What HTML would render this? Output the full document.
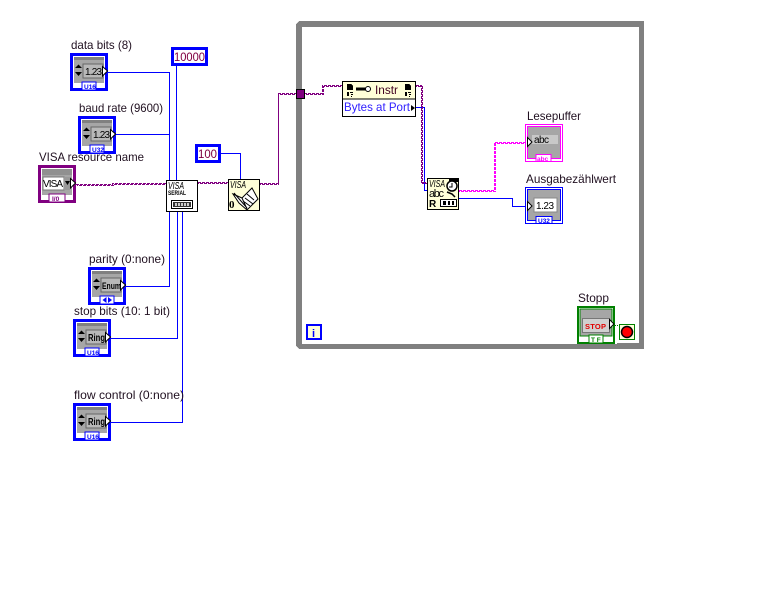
<!DOCTYPE html>
<html><head><meta charset="utf-8">
<style>
html,body{margin:0;padding:0;background:#fff}
svg{display:block}
text{font-family:"Liberation Sans",sans-serif;font-size:12px;fill:#201020}
.w{fill:none;shape-rendering:crispEdges}
.b{stroke:#0000ff;stroke-width:1}
.p{stroke:#800080;stroke-width:1;stroke-dasharray:3 1}
.k{stroke:#ff00ff;stroke-width:1;stroke-dasharray:3 1}
.n{font-size:10px;fill:#000}
.t{font-size:6.5px;font-weight:bold;fill:#0000ff}
.v{font-family:"Liberation Sans",sans-serif;font-style:italic;font-size:10px;fill:#000}
.s{shape-rendering:crispEdges}
</style></head><body>
<svg width="768" height="614" viewBox="0 0 768 614" xmlns="http://www.w3.org/2000/svg">
<!-- loop -->
<path class="s" fill="#808080" d="M299 21H644V27H302V344H617V343H639V27H644V349H299L296 346V24Z"/>

<!-- blue wires -->
<g class="w b">
<path d="M108 72.500H169.500V180"/>
<path d="M116 134.500H169.500"/>
<path d="M176.500 66V180"/>
<path d="M220 153.500H240.500V179"/>
<path d="M126 286.500H169.500V212"/>
<path d="M111 338.500H177.500V212"/>
<path d="M111 422.500H182.500V212"/>
<path d="M416 107.500H424.500V190.500H427"/>
<path d="M459 198.500H512.500V206.500H527"/>
</g>
<!-- purple wires -->
<g class="w p">
<path d="M76 184.500H112.500V183.500H166"/>
<path d="M198 182.500H228"/>
<path d="M260 183.500H278.500V93.500H296"/>
<path d="M304 93.500H322.500V85.500H342"/>
<path d="M416 85.500H421.500V182.500H427"/>
</g>
<g class="w p" transform="translate(1,1)">
<path style="stroke-dashoffset:2" d="M76 184.500H112.500V183.500H165"/>
<path style="stroke-dashoffset:2" d="M197 182.500H227"/>
<path style="stroke-dashoffset:2" d="M259 183.500H277.500V93.500H295"/>
<path style="stroke-dashoffset:2" d="M303 93.500H322.500V85.500H341"/>
<path style="stroke-dashoffset:2" d="M415 85.500H421.500V182.500H426"/>
</g>
<!-- pink wire -->
<path class="w k" d="M459 190.500H494.500V142.500H526"/>
<path class="w k" style="stroke-dashoffset:2" transform="translate(1,1)" d="M458 190.500H494.500V142.500H525"/>
<path class="w" stroke="#008000" stroke-dasharray="1 1" d="M615 325.500H620"/>

<!-- tunnel -->
<rect class="s" x="296.500" y="89.500" width="8" height="9" fill="#800080" stroke="#000"/>

<!-- labels -->
<text x="71" y="49" textLength="61" lengthAdjust="spacingAndGlyphs">data bits (8)</text>
<text x="79" y="112" textLength="84" lengthAdjust="spacingAndGlyphs">baud rate (9600)</text>
<text x="39" y="161" textLength="105" lengthAdjust="spacingAndGlyphs">VISA resource name</text>
<text x="89" y="263" textLength="76" lengthAdjust="spacingAndGlyphs">parity (0:none)</text>
<text x="74" y="315" textLength="96" lengthAdjust="spacingAndGlyphs">stop bits (10: 1 bit)</text>
<text x="74" y="399" textLength="110" lengthAdjust="spacingAndGlyphs">flow control (0:none)</text>
<text x="527" y="120" textLength="54" lengthAdjust="spacingAndGlyphs">Lesepuffer</text>
<text x="526" y="183" textLength="90" lengthAdjust="spacingAndGlyphs">Ausgabezählwert</text>
<text x="578" y="302" textLength="31" lengthAdjust="spacingAndGlyphs">Stopp</text>

<!-- constants -->
<rect class="s" x="172.500" y="48.500" width="34" height="16" fill="#fff" stroke="#0000ff" stroke-width="3"/>
<text x="174" y="61" style="fill:#800040" textLength="31" lengthAdjust="spacingAndGlyphs">10000</text>
<rect class="s" x="196.500" y="145.500" width="23" height="16" fill="#fff" stroke="#0000ff" stroke-width="3"/>
<text x="198" y="158" style="fill:#800040" textLength="19" lengthAdjust="spacingAndGlyphs">100</text>

<!-- data bits -->
<g transform="translate(70,53)">
<rect class="s" x="1.500" y="1.500" width="35" height="35" fill="#fff" stroke="#0000ff" stroke-width="3"/>
<rect class="s" x="4" y="4" width="30" height="26" fill="#a6a6a6"/><rect class="s" x="4" y="4" width="30" height="3" fill="#808080"/>
<rect class="s" x="13" y="11" width="20" height="14" fill="#b8b8b8" stroke="#666"/>
<path d="M5 15L8.500 11.500L12 15ZM5 19L8.500 23L12 19Z" fill="#000"/>
<text x="15" y="22" class="n" textLength="17" lengthAdjust="spacing">1.23</text>
<path d="M32.500 13.500L37.500 18L32.500 23Z" fill="#fff" stroke="#000"/>
<rect class="s" x="12" y="29" width="14" height="8" fill="#fff" stroke="#0000ff"/><text x="14" y="36" class="t">U16</text>
</g>
<!-- baud rate -->
<g transform="translate(78,116)">
<rect class="s" x="1.500" y="1.500" width="35" height="35" fill="#fff" stroke="#0000ff" stroke-width="3"/>
<rect class="s" x="4" y="4" width="30" height="26" fill="#a6a6a6"/><rect class="s" x="4" y="4" width="30" height="3" fill="#808080"/>
<rect class="s" x="13" y="11" width="20" height="14" fill="#b8b8b8" stroke="#666"/>
<path d="M5 15L8.500 11.500L12 15ZM5 19L8.500 23L12 19Z" fill="#000"/>
<text x="15" y="22" class="n" textLength="17" lengthAdjust="spacing">1.23</text>
<path d="M32.500 13.500L37.500 18L32.500 23Z" fill="#fff" stroke="#000"/>
<rect class="s" x="12" y="29" width="14" height="8" fill="#fff" stroke="#0000ff"/><text x="14" y="36" class="t">U32</text>
</g>
<!-- VISA -->
<g transform="translate(38,165)">
<rect class="s" x="1.500" y="1.500" width="35" height="35" fill="#fff" stroke="#800080" stroke-width="3"/>
<rect class="s" x="4" y="4" width="30" height="26" fill="#a6a6a6"/><rect class="s" x="4" y="4" width="30" height="6" fill="#909090"/>
<rect class="s" x="5" y="12" width="21" height="13" fill="#fff" stroke="#777"/>
<rect class="s" x="26" y="12" width="6" height="13" fill="#999"/>
<path d="M27 16H32L29.500 20Z" fill="#000"/>
<text x="5" y="22" style="font-size:10px;fill:#000" textLength="20" lengthAdjust="spacing">VISA</text>
<path d="M32.500 13.500L37.500 18L32.500 23Z" fill="#fff" stroke="#000"/>
<rect class="s" x="11" y="29" width="16" height="8" fill="#fff" stroke="#800080"/><text x="14" y="36" class="t" style="fill:#800080">I/0</text>
</g>
<!-- parity -->
<g transform="translate(88,267)">
<rect class="s" x="1.500" y="1.500" width="35" height="35" fill="#fff" stroke="#0000ff" stroke-width="3"/>
<rect class="s" x="4" y="4" width="30" height="26" fill="#a6a6a6"/><rect class="s" x="4" y="4" width="30" height="3" fill="#808080"/>
<rect class="s" x="13" y="11" width="20" height="14" fill="#b8b8b8" stroke="#666"/>
<path d="M5 15L8.500 11.500L12 15ZM5 19L8.500 23L12 19Z" fill="#000"/>
<text x="14" y="22" class="n" style="font-weight:bold;font-size:9px" textLength="19" lengthAdjust="spacingAndGlyphs">Enum</text>
<path d="M32.500 13.500L37.500 18L32.500 23Z" fill="#fff" stroke="#000"/>
<rect class="s" x="12" y="29" width="14" height="8" fill="#fff" stroke="#0000ff"/>
<path d="M18.500 30L14.500 33L18.500 36ZM20 30L24 33L20 36Z" fill="#0000ff"/>
</g>
<!-- stop bits -->
<g transform="translate(73,319)">
<rect class="s" x="1.500" y="1.500" width="35" height="35" fill="#fff" stroke="#0000ff" stroke-width="3"/>
<rect class="s" x="4" y="4" width="30" height="26" fill="#a6a6a6"/><rect class="s" x="4" y="4" width="30" height="3" fill="#808080"/>
<rect class="s" x="13" y="11" width="20" height="14" fill="#b8b8b8" stroke="#666"/>
<path d="M5 15L8.500 11.500L12 15ZM5 19L8.500 23L12 19Z" fill="#000"/>
<text x="15" y="22" class="n" style="font-weight:bold" textLength="17" lengthAdjust="spacingAndGlyphs">Ring</text>
<path d="M32.500 13.500L37.500 18L32.500 23Z" fill="#fff" stroke="#000"/>
<rect class="s" x="12" y="29" width="14" height="8" fill="#fff" stroke="#0000ff"/><text x="14" y="36" class="t">U16</text>
</g>
<!-- flow control -->
<g transform="translate(73,403)">
<rect class="s" x="1.500" y="1.500" width="35" height="35" fill="#fff" stroke="#0000ff" stroke-width="3"/>
<rect class="s" x="4" y="4" width="30" height="26" fill="#a6a6a6"/><rect class="s" x="4" y="4" width="30" height="3" fill="#808080"/>
<rect class="s" x="13" y="11" width="20" height="14" fill="#b8b8b8" stroke="#666"/>
<path d="M5 15L8.500 11.500L12 15ZM5 19L8.500 23L12 19Z" fill="#000"/>
<text x="15" y="22" class="n" style="font-weight:bold" textLength="17" lengthAdjust="spacingAndGlyphs">Ring</text>
<path d="M32.500 13.500L37.500 18L32.500 23Z" fill="#fff" stroke="#000"/>
<rect class="s" x="12" y="29" width="14" height="8" fill="#fff" stroke="#0000ff"/><text x="14" y="36" class="t">U16</text>
</g>

<!-- VISA serial -->
<g transform="translate(166,180)">
<rect class="s" x="0.500" y="0.500" width="31" height="31" fill="#fff" stroke="#000"/>
<text x="2" y="9" class="v" textLength="16" lengthAdjust="spacingAndGlyphs">VISA</text>
<text x="2" y="15" style="font-size:6px;font-weight:bold;fill:#000" textLength="18" lengthAdjust="spacingAndGlyphs">SERIAL</text>
<rect class="s" x="5.500" y="20.500" width="21" height="8" fill="#fff" stroke="#000"/>
<rect class="s" x="7" y="22" width="18" height="5" fill="#333"/>
<path class="s" d="M9 23h2v3h-2zM12 23h2v3h-2zM15 23h2v3h-2zM18 23h2v3h-2zM21 23h2v3h-2z" fill="#ccc"/>
</g>
<!-- VISA flush -->
<g transform="translate(228,179)">
<rect class="s" x="0.500" y="0.500" width="31" height="31" fill="#ffffd8" stroke="#000"/>
<text x="2" y="9" class="v" textLength="16" lengthAdjust="spacingAndGlyphs">VISA</text>
<text x="1" y="29" style="font-size:11px;font-weight:bold;fill:#000;font-family:'Liberation Serif',serif">0</text>
<path d="M5 15L14 19L24 9L30 20L19 31L11 24Z" fill="#fff" stroke="#000"/>
<path d="M6 14L19 29M14 19L19 30M19 15L26 21M17 19L25 25M15 22L22 27" stroke="#000" fill="none"/>
</g>
<!-- Property node -->
<g transform="translate(342,81)">
<rect class="s" x="0.500" y="0.500" width="73" height="35" fill="#fff" stroke="#000"/>
<rect class="s" x="1" y="1" width="72" height="17" fill="#ffffd8"/>
<path class="s" d="M0 18H74" stroke="#000"/>
<path class="s" d="M5 3h4l2 2v4h-6zM5 11h2v4h-2zM8 11h3v1h-3zM9 13h2v1h-2zM9 15h1v1h-1zM63 3h4l2 2v4h-6zM63 11h2v4h-2zM66 11h3v1h-3zM67 13h2v1h-2zM67 15h1v1h-1z" fill="#000"/>
<path d="M14 8H24" stroke="#000" stroke-width="3"/><circle cx="26" cy="8" r="2.500" fill="#fff" stroke="#000"/>
<text x="33" y="13" style="fill:#400020" textLength="23" lengthAdjust="spacingAndGlyphs">Instr</text>
<text x="2" y="30" style="fill:#3020ff" textLength="66" lengthAdjust="spacingAndGlyphs">Bytes at Port</text>
<path d="M69 24L73 27L69 30Z" fill="#000"/>
</g>
<!-- VISA read -->
<g transform="translate(427,178)">
<rect class="s" x="0.500" y="0.500" width="31" height="31" fill="#ffffd8" stroke="#000"/>
<text x="2" y="9" class="v" textLength="16" lengthAdjust="spacingAndGlyphs">VISA</text>
<rect class="s" x="22" y="1" width="9" height="3" fill="#000"/>
<circle cx="25" cy="8" r="5" fill="#fff" stroke="#000" stroke-width="1.500"/>
<path d="M25 5V9H22" stroke="#000" fill="none"/>
<text x="2" y="19" style="font-size:11px;fill:#000" textLength="15" lengthAdjust="spacing">abc</text>
<path d="M20 14L25 16L28 19" stroke="#000" stroke-width="1.500" fill="none"/>
<text x="2" y="29" style="font-size:10px;font-weight:bold;fill:#000">R</text>
<rect class="s" x="13.500" y="21.500" width="16" height="7" fill="#fff" stroke="#000"/>
<rect class="s" x="16" y="23" width="3" height="4" fill="#000"/><rect class="s" x="21" y="23" width="2" height="4" fill="#000"/><rect class="s" x="25" y="23" width="2" height="4" fill="#000"/>
</g>

<!-- Lesepuffer -->
<g transform="translate(525,124)">
<rect class="s" x="0.500" y="0.500" width="37" height="37" fill="#fff" stroke="#ff00ff"/>
<rect class="s" x="2.500" y="2.500" width="33" height="32" fill="#a6a6a6" stroke="#ff00ff"/>
<rect class="s" x="7" y="11" width="26" height="9" fill="#c8c8c8"/>
<text x="9" y="19" class="n" textLength="15" lengthAdjust="spacing">abc</text>
<path d="M2.500 13.500L7 18L2.500 22.500Z" fill="#fff" stroke="#000"/>
<rect class="s" x="11" y="30.500" width="15" height="7" fill="#fff" stroke="#ff00ff"/><text x="12" y="37" class="t" style="fill:#ff00ff">abc</text>
</g>
<!-- Ausgabe -->
<g transform="translate(525,187)">
<rect class="s" x="0.500" y="0.500" width="37" height="36" fill="#fff" stroke="#0000ff"/>
<rect class="s" x="2.500" y="2.500" width="33" height="31" fill="#a6a6a6" stroke="#0000ff"/>
<rect class="s" x="9" y="11" width="23" height="14" fill="#fff" stroke="#888"/>
<text x="11" y="22" class="n" textLength="18" lengthAdjust="spacing">1.23</text>
<path d="M2.500 14.500L7 19L2.500 23.500Z" fill="#fff" stroke="#000"/>
<rect class="s" x="11" y="29.500" width="16" height="7" fill="#fff" stroke="#0000ff"/><text x="13" y="36" class="t">U32</text>
</g>
<!-- Stopp -->
<g transform="translate(577,306)">
<rect class="s" x="1" y="1" width="36" height="36" fill="#fff" stroke="#008000" stroke-width="2"/>
<rect class="s" x="3" y="3" width="32" height="27" fill="#a6a6a6" stroke="#008000"/>
<rect class="s" x="5.500" y="12.500" width="27" height="14" fill="#d0d0d0" stroke="#777"/>
<text x="8" y="23" style="font-size:7.500px;font-weight:bold;fill:#e00000" textLength="21" lengthAdjust="spacing">STOP</text>
<path d="M32.500 13.500L37 18L32.500 22.500Z" fill="#fff" stroke="#000"/>
<rect class="s" x="12" y="29" width="14" height="8" fill="#fff" stroke="#008000"/>
<text x="14" y="36" style="font-size:6.500px;font-weight:bold;fill:#008000">T F</text>
</g>
<!-- Stop terminal -->
<g transform="translate(619,324)">
<rect class="s" x="0.500" y="0.500" width="15" height="15" fill="#ffffd8" stroke="#008000"/>
<circle cx="8" cy="8" r="5.500" fill="#ff0000" stroke="#000" stroke-width="1.500"/>
</g>
<!-- i -->
<g transform="translate(306,324)">
<rect class="s" x="1" y="1" width="14" height="14" fill="#ffffd8" stroke="#0000ff" stroke-width="2"/>
<text x="6" y="13" style="font-weight:bold;font-size:11px;fill:#0000ff">i</text>
</g>
</svg>
</body></html>
